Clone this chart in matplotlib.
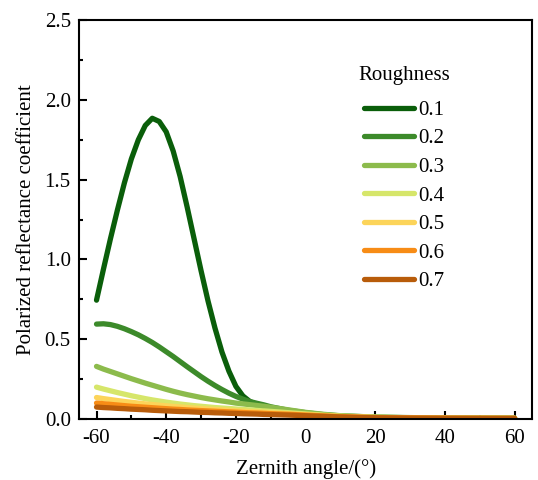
import numpy as np
import matplotlib
matplotlib.use("Agg")
import matplotlib.pyplot as plt
from matplotlib.ticker import MultipleLocator

plt.rcParams['font.family'] = ['Liberation Serif', 'DejaVu Serif']
plt.rcParams['axes.unicode_minus'] = False

# zenith angle grid (deg)
angle = [-60, -58, -56, -54, -52, -50, -48, -46, -44, -42, -40, -38, -36, -34,
         -32, -30, -28, -26, -24, -22, -20, -18, -16, -14, -12, -10,
         -5, 0, 5, 10, 20, 30, 40, 50, 60]

r01 = [0.745, 0.94, 1.13, 1.31, 1.48, 1.63, 1.75, 1.84, 1.885, 1.865, 1.80, 1.68, 1.52, 1.33,
       1.13, 0.93, 0.74, 0.57, 0.42, 0.30, 0.205, 0.145, 0.11, 0.09, 0.078, 0.068,
       0.05, 0.035, 0.023, 0.015, 0.010, 0.007, 0.006, 0.005, 0.005]
r02 = [0.595, 0.597, 0.592, 0.581, 0.566, 0.548, 0.528, 0.505, 0.48, 0.452, 0.422, 0.392, 0.36, 0.328,
       0.297, 0.266, 0.237, 0.21, 0.185, 0.162, 0.142, 0.125, 0.11, 0.099, 0.089, 0.077,
       0.055, 0.04, 0.028, 0.02, 0.012, 0.009, 0.007, 0.006, 0.005]
r03 = [0.33, 0.313, 0.298, 0.283, 0.268, 0.253, 0.239, 0.225, 0.212, 0.199, 0.186, 0.174, 0.163, 0.153,
       0.144, 0.135, 0.127, 0.12, 0.113, 0.107, 0.10, 0.095, 0.09, 0.085, 0.08, 0.074,
       0.058, 0.042, 0.03, 0.021, 0.012, 0.008, 0.006, 0.005, 0.005]
r04 = [0.20, 0.188, 0.177, 0.166, 0.156, 0.146, 0.137, 0.128, 0.12, 0.113, 0.106, 0.10, 0.094, 0.089,
       0.084, 0.08, 0.076, 0.072, 0.069, 0.066, 0.063, 0.06, 0.057, 0.054, 0.051, 0.048,
       0.04, 0.032, 0.024, 0.018, 0.011, 0.008, 0.006, 0.005, 0.005]
r05 = [0.135, 0.128, 0.122, 0.116, 0.11, 0.105, 0.1, 0.095, 0.091, 0.087, 0.083, 0.079, 0.076, 0.072,
       0.069, 0.066, 0.063, 0.06, 0.058, 0.055, 0.052, 0.05, 0.047, 0.045, 0.042, 0.04,
       0.034, 0.028, 0.022, 0.016, 0.01, 0.007, 0.006, 0.005, 0.005]
r06 = [0.10, 0.096, 0.092, 0.088, 0.084, 0.08, 0.077, 0.074, 0.071, 0.068, 0.065, 0.062, 0.06, 0.057,
       0.055, 0.053, 0.051, 0.049, 0.047, 0.045, 0.043, 0.041, 0.039, 0.038, 0.036, 0.034,
       0.03, 0.025, 0.02, 0.015, 0.009, 0.007, 0.005, 0.005, 0.004]
r07 = [0.075, 0.072, 0.07, 0.067, 0.065, 0.062, 0.06, 0.058, 0.055, 0.053, 0.051, 0.049, 0.047, 0.046,
       0.044, 0.042, 0.041, 0.039, 0.038, 0.036, 0.035, 0.033, 0.032, 0.031, 0.029, 0.028,
       0.025, 0.021, 0.017, 0.013, 0.008, 0.006, 0.005, 0.004, 0.004]

labels = ['0.1', '0.2', '0.3', '0.4', '0.5', '0.6', '0.7']
colors = ['#0a5e0a', '#3c8a2a', '#8cbb4c', '#d6e66a', '#fcd45a', '#f78c16', '#b85c0a']
series = [r01, r02, r03, r04, r05, r06, r07]

fig = plt.figure(figsize=(5.38, 4.8), dpi=100)
ax = fig.add_axes([0.147, 0.127, 0.842, 0.831])

for vals, lab, c in zip(series, labels, colors):
    ax.plot(angle, vals, color=c, lw=3.8, label=lab,
            solid_capstyle='round', solid_joinstyle='round')

ax.set_xlim(-65, 65)
ax.set_ylim(0, 2.5)
ax.xaxis.set_major_locator(MultipleLocator(20))
ax.xaxis.set_minor_locator(MultipleLocator(10))
ax.yaxis.set_major_locator(MultipleLocator(0.5))
ax.yaxis.set_minor_locator(MultipleLocator(0.25))
ax.yaxis.set_major_formatter(plt.FormatStrFormatter('%.1f'))
ax.tick_params(which='major', direction='in', length=6, width=1.5, labelsize=15, pad=6)
ax.tick_params(axis='x', which='major', pad=7)
ax.tick_params(which='minor', direction='in', length=3, width=1.5)
for s in ax.spines.values():
    s.set_linewidth(1.5)

ax.set_xlabel('Zernith angle/(°)', fontsize=15, labelpad=8)
ax.set_ylabel('Polarized reflectance coefficient', fontsize=15, labelpad=6)

leg = ax.legend(title='Roughness', frameon=False, fontsize=15, title_fontsize=15,
                loc='upper left', bbox_to_anchor=(0.616, 0.885),
                borderaxespad=0, borderpad=0,
                handlelength=2.4, handletextpad=0.2, labelspacing=0.43)
leg._legend_box.sep = 11

fig.savefig('out.png', dpi=100)
